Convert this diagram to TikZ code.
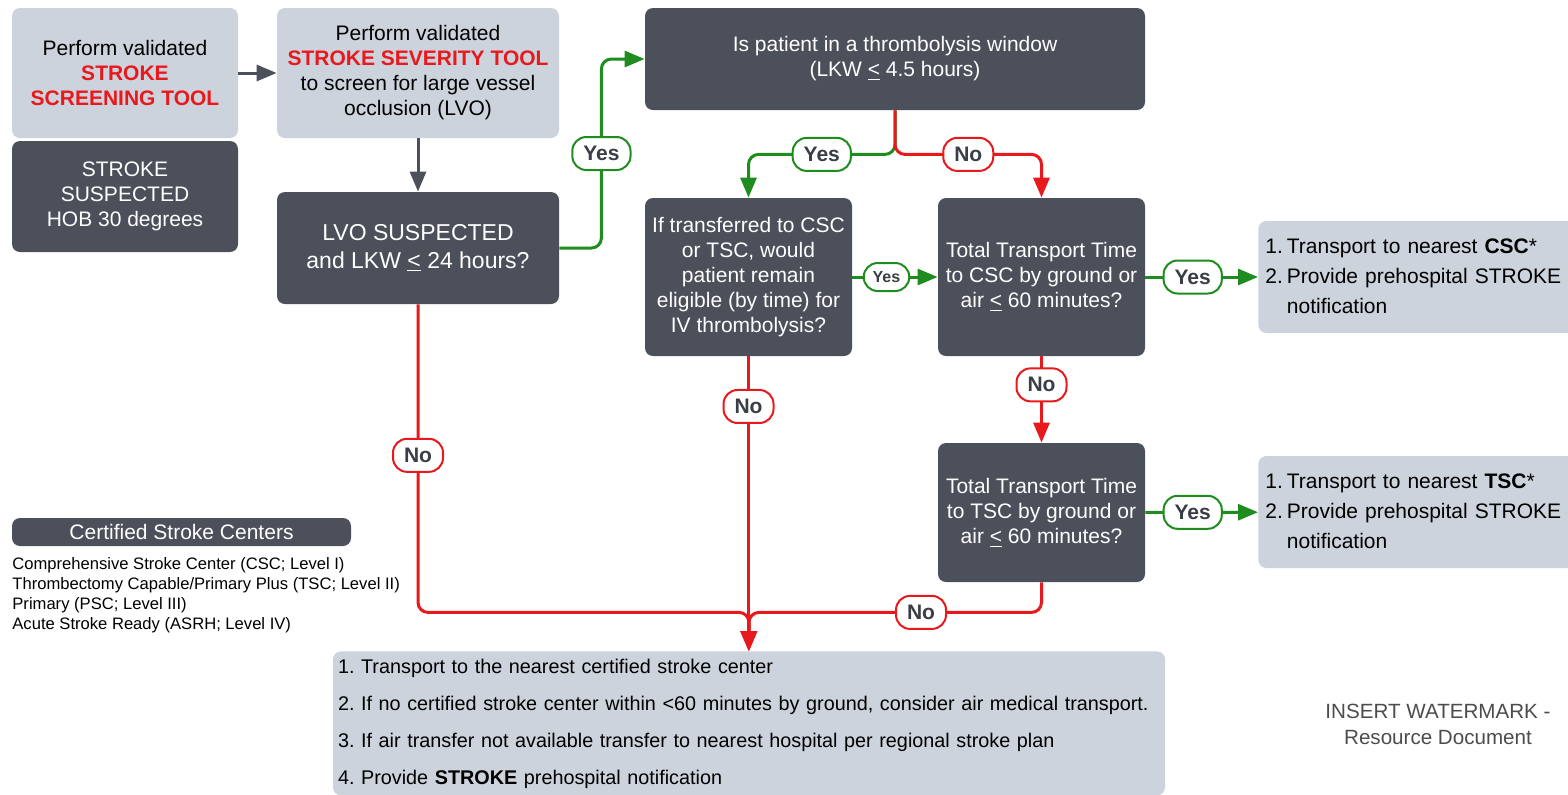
\documentclass[tikz,border=0pt]{standalone}
\usepackage{fontspec}
\setmainfont{Liberation Sans}
\usetikzlibrary{arrows.meta}
\definecolor{slate}{HTML}{4B505A}
\definecolor{mist}{HTML}{CDD3DC}
\definecolor{alarm}{HTML}{E8191C}
\definecolor{go}{HTML}{1E8C1E}
\definecolor{ink}{HTML}{3A3E46}
\newcommand{\hot}[1]{\textcolor{alarm}{\textbf{#1}}}
\newcommand{\ule}{\underline{<}}
\frenchspacing
\begin{document}
\begin{tikzpicture}[x=0.5pt,y=-0.5pt,
                    >={Triangle[length=10pt,width=8pt]},
  box/.style={rounded corners=4pt, inner sep=2pt, align=center,
              font=\fontsize{10.5}{12.5}\selectfont},
  pale/.style={box, fill=mist, text=black},
  dark/.style={box, fill=slate, text=white},
  tag/.style={fill=white, rounded corners=7pt, line width=1pt, text=ink,
              font=\fontsize{10.5}{12}\selectfont\bfseries,
              minimum height=16.5pt, inner xsep=5.5pt, inner ysep=0pt},
  yestag/.style={tag, draw=go},
  notag/.style={tag, draw=alarm},
  slimtag/.style={font=\fontsize{8}{9}\selectfont\bfseries,
                  minimum height=14pt, inner xsep=4.5pt},
  flow/.style={->, slate, line width=1.5pt},
  goline/.style={->, go, line width=1.5pt, rounded corners=5pt},
  stopline/.style={->, alarm, line width=1.5pt, rounded corners=5pt}]
\useasboundingbox (0,0) rectangle (1568,794);
\clip (0,0) rectangle (1568,794);

\node[pale, minimum width=113pt, minimum height=65pt] (scr) at (125,73) {Perform validated\\ \hot{STROKE}\\ \hot{SCREENING TOOL}};
\node[dark, minimum width=113pt, minimum height=55.5pt] (sus) at (125,196.5) {STROKE\\ SUSPECTED\\ HOB 30 degrees};
\node[pale, minimum width=141pt, minimum height=65pt] (sev) at (418,73) {Perform validated\\ \hot{STROKE SEVERITY TOOL}\\ to screen for large vessel\\ occlusion (LVO)};
\node[dark, minimum width=141pt, minimum height=56pt, font=\fontsize{11.5}{14}\selectfont] (lvo) at (418,248) {LVO SUSPECTED\\ and LKW \ule{} 24 hours?};
\node[dark, minimum width=250pt, minimum height=51pt] (win) at (895,59) {Is patient in a thrombolysis window\\ (LKW \ule{} 4.5 hours)};
\node[dark, minimum width=103.5pt, minimum height=79pt] (elig) at (748.5,277) {If transferred to CSC\\ or TSC, would\\ patient remain\\ eligible (by time) for\\ IV thrombolysis?};
\node[dark, minimum width=103.5pt, minimum height=79pt] (csc) at (1041.5,277) {Total Transport Time\\ to CSC by ground or\\ air \ule{} 60 minutes?};
\node[dark, minimum width=103.5pt, minimum height=69.5pt] (tsc) at (1041.5,512.5) {Total Transport Time\\ to TSC by ground or\\ air \ule{} 60 minutes?};
\node[pale, anchor=west, minimum height=56pt, text width=153pt, inner xsep=3.5pt, align=left,
      font=\fontsize{10.5}{15}\selectfont] (tocsc) at (1258,277)
  {\begin{tabular}{@{}l@{\hspace{2pt}}l@{}}1. & Transport to nearest \textbf{CSC}*\\ 2. & Provide prehospital STROKE\\ & notification\end{tabular}};
\node[pale, anchor=west, minimum height=56pt, text width=153pt, inner xsep=3.5pt, align=left,
      font=\fontsize{10.5}{15}\selectfont] (totsc) at (1258,512)
  {\begin{tabular}{@{}l@{\hspace{2pt}}l@{}}1. & Transport to nearest \textbf{TSC}*\\ 2. & Provide prehospital STROKE\\ & notification\end{tabular}};
\node[pale, anchor=north, minimum width=416pt, minimum height=72pt, text width=411pt,
      inner xsep=2.5pt, inner ysep=0pt, align=left,
      font=\fontsize{9.9}{18.5}\selectfont] (near) at (749,651)
  {1. Transport to the nearest certified stroke center\\
   2. If no certified stroke center within <60 minutes by ground, consider air medical transport.\\
   3. If air transfer not available transfer to nearest hospital per regional stroke plan\\
   4. Provide \textbf{STROKE} prehospital notification};

% legend
\node[dark, minimum width=169.5pt, minimum height=14pt] (cert) at (181.5,532) {Certified Stroke Centers};
\node[anchor=north west, align=left, inner sep=0pt, text=black,
      font=\fontsize{8.3}{10}\selectfont] (levels) at (12,557)
  {Comprehensive Stroke Center (CSC; Level I)\\
   Thrombectomy Capable/Primary Plus (TSC; Level II)\\
   Primary (PSC; Level III)\\
   Acute Stroke Ready (ASRH; Level IV)};
\node[align=center, text=black!70, font=\fontsize{10.3}{13}\selectfont] (mark) at (1438,724)
  {INSERT WATERMARK -\\ Resource Document};

\draw[flow] (scr) -- (sev);
\draw[flow] (sev) -- (lvo);
\draw[goline] (lvo.east) -- ++(42,0) |- node[yestag,pos=0.25] {Yes} (win.west);
\draw[goline] (win.south) -- ++(0,44) -| node[yestag,pos=0.25] {Yes} (elig.north);
\draw[stopline] (win.south) -- ++(0,44) -| node[notag,pos=0.25] {No} (csc.north);
\draw[goline] (elig) -- node[yestag,slimtag,pos=0.4] {Yes} (csc);
\draw[goline] (csc) -- node[yestag,pos=0.42] {Yes} (tocsc);
\draw[stopline] (csc) -- node[notag,pos=0.33] {No} (tsc);
\draw[goline] (tsc) -- node[yestag,pos=0.42] {Yes} (totsc);
\draw[stopline] (lvo.south) -- node[notag,pos=0.49] {No} ++(0,308) -| (near.north);
\draw[stopline] (elig.south) -- node[notag,pos=0.17] {No} (elig.south |- near.north);
\draw[stopline] (tsc.south) -- ++(0,30) -| node[notag,pos=0.206] {No} (near.north);

\end{tikzpicture}
\end{document}
